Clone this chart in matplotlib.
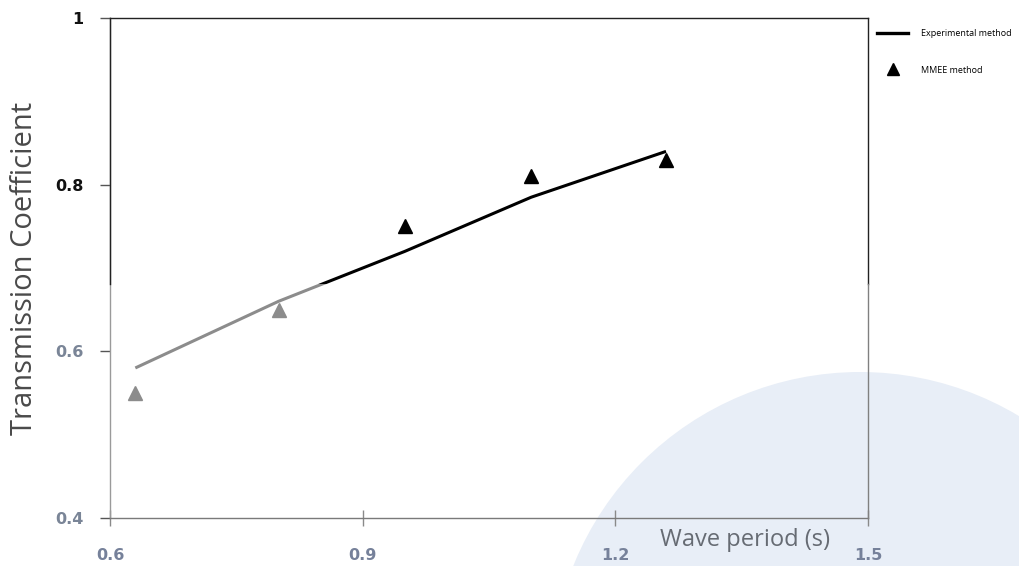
import numpy as np
import matplotlib
matplotlib.use("Agg")
import matplotlib.pyplot as plt
from matplotlib.patches import Rectangle, Ellipse
from matplotlib.lines import Line2D

# data
period_exp = [0.63, 0.80, 0.95, 1.10, 1.26]
kt_exp = [0.58, 0.66, 0.72, 0.785, 0.84]
period_mmee = [0.63, 0.80, 0.95, 1.10, 1.26]
kt_mmee = [0.55, 0.65, 0.75, 0.81, 0.83]

xticks = [0.6, 0.9, 1.2, 1.5]
yticks = [0.4, 0.6, 0.8, 1.0]
ytick_labels = ['0.4', '0.6', '0.8', '1']

# the scanned picture is lighter below this level
y_split = 0.681
dark = '#000000'
light = '#8c8c8c'

fig = plt.figure(figsize=(10.19, 5.66), dpi=100)
fig.patch.set_facecolor('white')

# faint watermark in the lower right corner
fig.patches.append(Ellipse((860 / 1019, 1 - 681 / 566), 618 / 1019, 618 / 566,
                           transform=fig.transFigure, facecolor='#e8eef7',
                           edgecolor='none', zorder=0))

ax = fig.add_axes([0.108, 0.085, 0.744, 0.883])
ax.set_zorder(2)
ax.patch.set_alpha(0)
ax.set_xlim(0.6, 1.5)
ax.set_ylim(0.4, 1.0)

top_clip = Rectangle((0.5, y_split), 2, 1, transform=ax.transData)
bot_clip = Rectangle((0.5, 0), 2, y_split, transform=ax.transData)

for col, clip in [(dark, top_clip), (light, bot_clip)]:
    ln, = ax.plot(period_exp, kt_exp, color=col, lw=2.2, solid_capstyle='butt')
    ln.set_clip_path(clip)
    mk, = ax.plot(period_mmee, kt_mmee, ls='none', marker='^', ms=10,
                  color=col, markeredgecolor=col)
    mk.set_clip_path(clip)

# frame
for s in ['top', 'right', 'left', 'bottom']:
    ax.spines[s].set_linewidth(1.0)
ax.spines['top'].set_color('#222222')
ax.spines['right'].set_color('#222222')
ax.spines['right'].set_bounds(y_split, 1.0)
ax.spines['bottom'].set_color('#7a7a7a')
ax.spines['left'].set_color('#9a9a9a')
ax.axvline(0.6, ymin=(y_split - 0.4) / 0.6, ymax=1, color='#222222', lw=1.0,
           clip_on=False, zorder=3)
ax.axvline(1.5, ymin=0, ymax=(y_split - 0.4) / 0.6, color='#808080', lw=1.0,
           clip_on=False, zorder=3)

ax.set_xticks(xticks)
ax.set_xticklabels([f'{v:g}' for v in xticks])
ax.set_yticks(yticks)
ax.set_yticklabels(ytick_labels)
ax.tick_params(axis='y', direction='out', length=7, width=1, pad=12, colors='#555555')
ax.tick_params(axis='x', direction='inout', length=12, width=1, pad=16, colors='#8a8a8a')
for lab, v in zip(ax.get_yticklabels(), yticks):
    lab.set_fontweight('bold')
    lab.set_fontfamily('DejaVu Sans')
    lab.set_fontsize(11.5)
    lab.set_color('#111111' if v > y_split else '#7a8597')
for lab in ax.get_xticklabels():
    lab.set_fontweight('bold')
    lab.set_fontfamily('DejaVu Sans')
    lab.set_fontsize(11.5)
    lab.set_color('#76819a')

ax.set_ylabel('Transmission Coefficient', fontsize=21, color='#4a4a4a',
              family='Open Sans', labelpad=12)
fig.text(745 / 1019, 1 - 540 / 566, 'Wave period (s)', fontsize=17, color='#666b73',
         family='Open Sans', ha='center', va='center')

handles = [Line2D([], [], color='black', lw=2.4),
           Line2D([], [], ls='none', marker='^', ms=9, color='black')]
fig.legend(handles, ['Experimental method', 'MMEE method'],
           loc='upper left', bbox_to_anchor=(0.861, 0.948), frameon=False,
           handlelength=3.4, labelspacing=3.0, handletextpad=1.4,
           borderpad=0, borderaxespad=0,
           prop={'family': 'Open Sans', 'size': 6.5})

fig.savefig('out.png', dpi=100)
